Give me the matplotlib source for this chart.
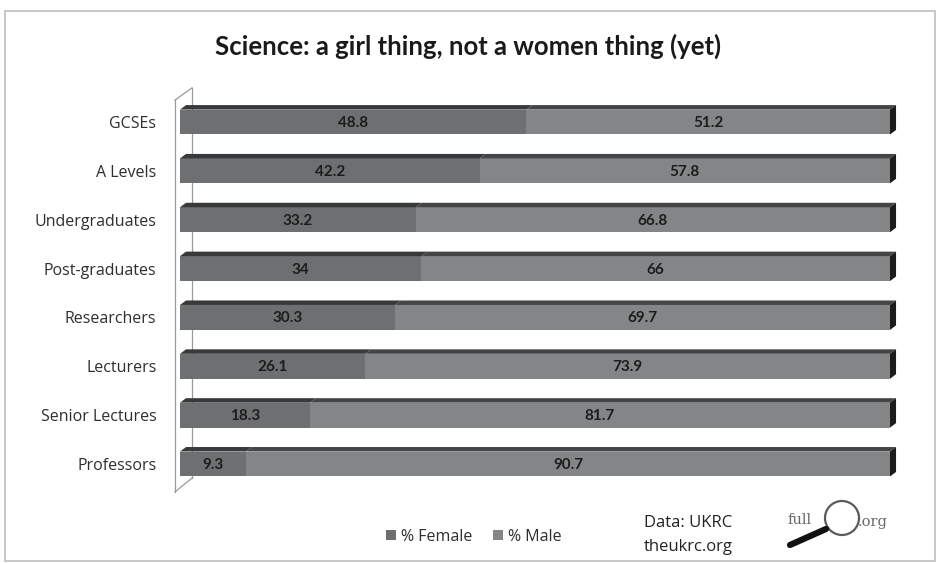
import matplotlib
matplotlib.use("Agg")
import matplotlib.pyplot as plt
from matplotlib.patches import Polygon, Rectangle, Circle, Patch
from matplotlib.lines import Line2D

categories = ["GCSEs", "A Levels", "Undergraduates", "Post-graduates",
              "Researchers", "Lecturers", "Senior Lectures", "Professors"]
female = [48.8, 42.2, 33.2, 34, 30.3, 26.1, 18.3, 9.3]
male = [51.2, 57.8, 66.8, 66, 69.7, 73.9, 81.7, 90.7]
series_names = ["% Female", "% Male"]

W, H = 939, 563
fig = plt.figure(figsize=(W / 100, H / 100), dpi=100)
fig.patch.set_facecolor("white")

# chart-area frame
fig.add_artist(Rectangle((5 / W, 1 - 561 / H), 930 / W, 550 / H,
                         transform=fig.transFigure, fill=False,
                         ec="#c8c8c8", lw=1.4))

ax = fig.add_axes([180 / W, 1 - 488.4 / H, 710 / W, 390.8 / H])
ax.set_xlim(0, 100)
ax.set_ylim(len(categories) - 0.5, -0.5)
for s in ax.spines.values():
    s.set_visible(False)
ax.set_xticks([])
ax.set_yticks(range(len(categories)))
ax.set_yticklabels(categories, fontsize=11.5, color="#2e2e2e",
                   fontfamily="Open Sans")
ax.tick_params(axis="y", length=0, pad=17)

# 3-D side wall
wall_kw = dict(color="#9a9a9a", lw=0.9, clip_on=False, zorder=1)
fx, bx = -0.70, 1.69
ax.add_line(Line2D([fx, fx], [-0.45, 7.57], **wall_kw))
ax.add_line(Line2D([bx, bx], [-0.70, 7.29], **wall_kw))
ax.add_line(Line2D([fx, bx], [-0.45, -0.70], **wall_kw))
ax.add_line(Line2D([fx, bx], [7.57, 7.29], **wall_kw))

face_cols = ["#6e6f71", "#848587"]
top_cols = ["#38393b", "#444547"]
side_col = "#1c1c1c"
h = 0.51
dx, dy = 0.85, 0.092

for i, (f, m) in enumerate(zip(female, male)):
    segs = [(0, f), (f, m)]
    top = i - h / 2
    bot = i + h / 2
    for k, (x0, w) in enumerate(segs):
        ax.barh(i, w, left=x0, height=h, color=face_cols[k],
                edgecolor="none", zorder=3)
        ax.add_patch(Polygon([(x0, top), (x0 + w, top),
                              (x0 + w + dx, top - dy), (x0 + dx, top - dy)],
                             closed=True, fc=top_cols[k], ec="none",
                             zorder=3, clip_on=False))
        ax.text(x0 + w / 2, i + 0.02, f"{w:g}", ha="center",
                va="center", fontsize=11, fontweight="bold",
                color="#1c1c1c", fontfamily="Lato", zorder=5)
    xe = f + m
    ax.add_patch(Polygon([(xe, top), (xe + dx, top - dy),
                          (xe + dx, bot - dy), (xe, bot)],
                         closed=True, fc=side_col, ec="none", zorder=3,
                         clip_on=False))

fig.text(468.5 / W, 1 - 46 / H, "Science: a girl thing, not a women thing (yet)",
         ha="center", va="center", fontsize=18.5, fontweight="bold",
         color="#1a1a1a", fontfamily="Lato")

handles = [Patch(fc=c, ec="none") for c in face_cols]
fig.legend(handles, series_names, loc="center",
           bbox_to_anchor=(474 / W, 1 - 537 / H), ncol=2, frameon=False,
           handlelength=0.6, handleheight=0.6, handletextpad=0.35,
           columnspacing=1.3, prop={"family": "Open Sans", "size": 11.5},
           labelcolor="#2e2e2e")

fig.text(644 / W, 1 - 523 / H, "Data: UKRC", ha="left", va="center",
         fontsize=12, color="#222222", fontfamily="Open Sans")
fig.text(644 / W, 1 - 547 / H, "theukrc.org", ha="left", va="center",
         fontsize=12, color="#222222", fontfamily="Open Sans")

# site logo: "full ... org" with a magnifying glass
fig.text(787 / W, 1 - 520 / H, "full", ha="left", va="center",
         fontsize=10.5, color="#6a6a6a", fontfamily="DejaVu Serif")
fig.text(858 / W, 1 - 522 / H, ".org", ha="left", va="center",
         fontsize=10.5, color="#6a6a6a", fontfamily="DejaVu Serif")
fig.add_artist(Circle((8.42, (H - 518) / 100), 0.17,
                      transform=fig.dpi_scale_trans,
                      fill=False, ec="#5a5a5a", lw=1.6))
fig.add_artist(Line2D([790 / W, 826 / W], [1 - 545 / H, 1 - 529 / H],
                      transform=fig.transFigure, color="#111111", lw=4.5,
                      solid_capstyle="round"))

fig.savefig("out.png", dpi=100, facecolor="white")
